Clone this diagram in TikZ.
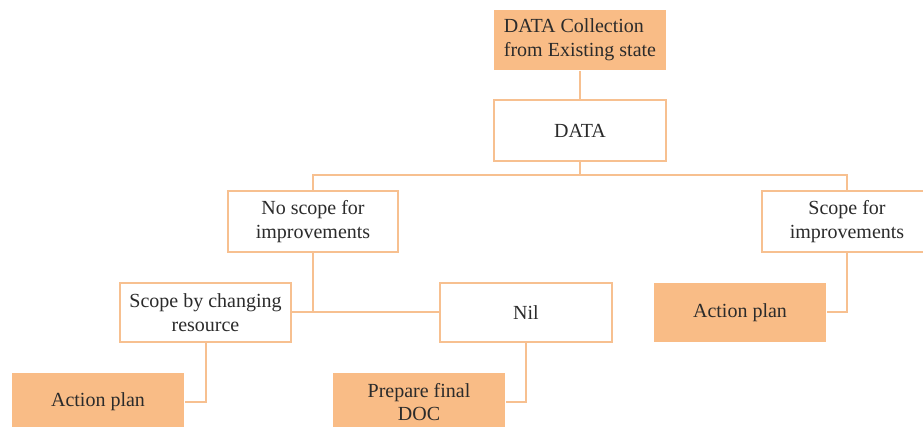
\documentclass[tikz,border=0pt]{standalone}
\usepackage{fontspec}
\setmainfont{Liberation Serif}
\definecolor{accfill}{HTML}{F9BC86}
\definecolor{accline}{HTML}{F7C090}
\definecolor{txt}{HTML}{2B2B2B}
\begin{document}
\begin{tikzpicture}[x=1pt,y=-1pt,
  box/.style={draw=accline, line width=2pt, fill=white, inner sep=0pt,
    align=center, text=txt, font=\fontsize{20}{24}\selectfont},
  hot/.style={box, draw=none, fill=accfill},
  conn/.style={draw=accline, line width=2pt}]
\clip (0,0) rectangle (923,427);
\fill[white] (0,0) rectangle (923,427);
\node[hot, align=left, minimum width=172pt, minimum height=60pt] (top) at (580,40) {DATA Collection\\from Existing state};
\node[box, minimum width=172pt, minimum height=61pt] (data) at (580,130.5) {DATA};
\node[box, minimum width=170pt, minimum height=61pt] (noscope) at (313,221.5) {No scope for\\improvements};
\node[box, minimum width=170pt, minimum height=61pt] (scope) at (847,221.5) {Scope for\\improvements};
\node[box, minimum width=171pt, minimum height=59pt] (changing) at (205.5,312.5) {Scope by changing\\resource};
\node[box, minimum width=172pt, minimum height=59pt] (nil) at (526,312.5) {Nil};
\node[hot, minimum width=172pt, minimum height=59pt] (apR) at (740,312.5) {Action plan};
\node[hot, minimum width=172pt, minimum height=58pt] (apL) at (98,402) {Action plan};
\node[hot, minimum width=172pt, minimum height=58pt] (prep) at (419,402) {\raisebox{-3pt}{\shortstack{Prepare final\\[3pt]DOC}}};
\coordinate (bus) at (580,175.5);
\draw[conn] (top.south) -- (data.north);
\draw[conn] (data.south) -- (bus);
\draw[conn] (noscope.north) |- (bus) -| (scope.north);
\draw[conn] (changing.east) -- (nil.west);
\draw[conn] (noscope.south) -- (noscope.south |- changing.east);
\draw[conn] (changing.south) |- (apL.east);
\draw[conn] (nil.south) |- (prep.east);
\draw[conn] (scope.south) |- (apR.east);
\end{tikzpicture}
\end{document}
